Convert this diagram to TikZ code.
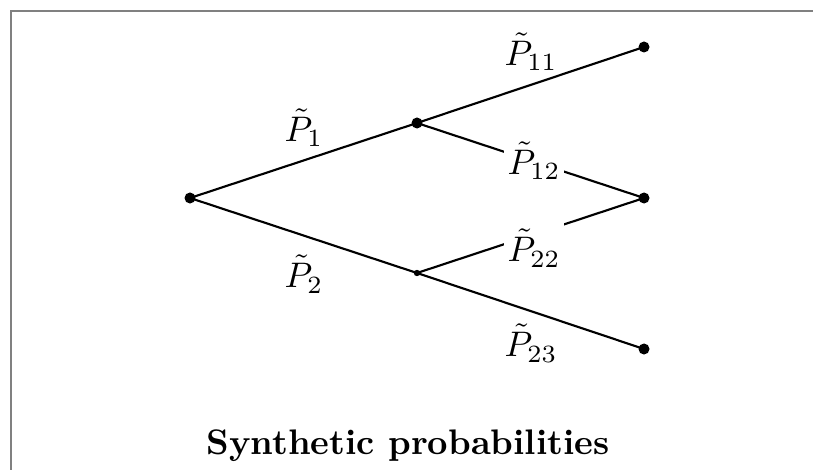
\documentclass[tikz,border=0pt]{standalone}
\begin{document}
\begin{tikzpicture}[x=0.2817pt,y=-0.2817pt,
  edge/.style={line width=0.6pt},
  bigdot/.style={circle,fill=black,inner sep=0pt,minimum size=3.1pt},
  smalldot/.style={circle,fill=black,inner sep=0pt,minimum size=1.8pt},
  lab/.style={inner sep=1.5pt},
  wlab/.style={fill=white,inner xsep=1pt,inner ysep=2.5pt}]
\useasboundingbox (0,0) rectangle (813,470);
\draw[line width=0.75pt,gray] (813,11) -- (11,11) -- (11,470);
\node[bigdot] (r) at (190,198) {};
\node[bigdot] (u) at (417,123) {};
\node[smalldot] (l) at (417,273) {};
\node[bigdot] (a) at (644,47) {};
\node[bigdot] (b) at (644,198) {};
\node[bigdot] (c) at (644,349) {};
\draw[edge] (r.center) -- (u.center);
\draw[edge] (r.center) -- (l.center);
\draw[edge] (u.center) -- (a.center);
\draw[edge] (u.center) -- (b.center);
\draw[edge] (l.center) -- (b.center);
\draw[edge] (l.center) -- (c.center);
\node[lab] (p1) at (304,128) {$\tilde{P}_1$};
\node[lab] (p2) at (304,274) {$\tilde{P}_2$};
\node[lab] (p11) at (531,52) {$\tilde{P}_{11}$};
\node[wlab] (p12) at (534,161) {$\tilde{P}_{12}$};
\node[wlab] (p22) at (534,248) {$\tilde{P}_{22}$};
\node[lab] (p23) at (531,343) {$\tilde{P}_{23}$};
\node (t) at (408,446) {\bfseries Synthetic probabilities};
\end{tikzpicture}
\end{document}
